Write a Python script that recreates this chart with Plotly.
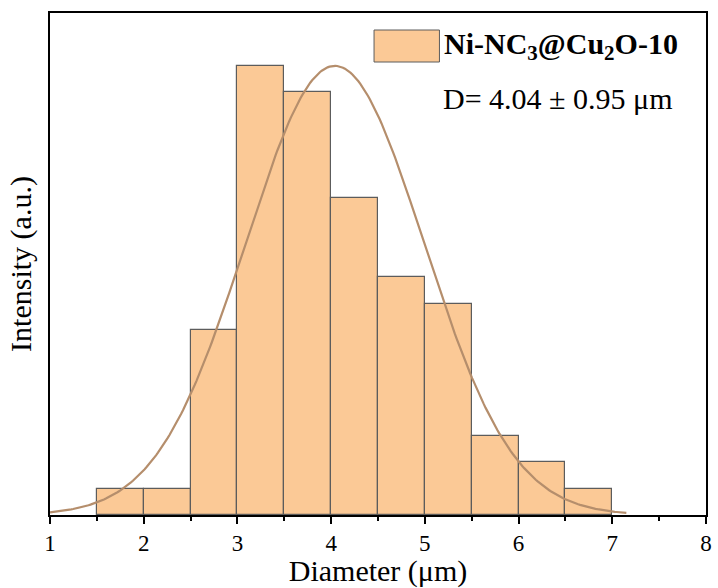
import numpy as np
import plotly.graph_objects as go

# Histogram data (bin left edges, counts)
bin_left = [1.5, 2.0, 2.5, 3.0, 3.5, 4.0, 4.5, 5.0, 5.5, 6.0, 6.5]
counts = [1, 1, 7, 17, 16, 12, 9, 8, 3, 2, 1]
bin_width = 0.5

# Gaussian fit parameters (from label)
mean_d = 4.04
std_d = 0.95
peak = 17.0
fit_start, fit_end = 1.0, 7.15

bar_x = [b + bin_width / 2 for b in bin_left]
xs = np.linspace(fit_start, fit_end, 300)
ys = peak * np.exp(-0.5 * ((xs - mean_d) / std_d) ** 2)

FONT = "Liberation Serif"
fig = go.Figure()
fig.add_trace(go.Bar(x=bar_x, y=counts, width=bin_width,
                     marker=dict(color="#FBC996", line=dict(color="#5c5c5c", width=1.2)),
                     showlegend=False))
fig.add_trace(go.Scatter(x=xs, y=ys, mode="lines",
                         line=dict(color="#B58E6C", width=2.2), showlegend=False))

fig.update_layout(
    width=718, height=588,
    margin=dict(l=50, r=6, t=13, b=73),
    plot_bgcolor="white", paper_bgcolor="white",
    font=dict(family=FONT, color="black"),
    bargap=0,
    xaxis=dict(range=[1, 8], dtick=1, tick0=1, ticks="outside", ticklen=7, tickwidth=1.5,
               tickcolor="black", showline=True, linecolor="black", linewidth=1.5, mirror=True,
               showgrid=False, zeroline=False, tickfont=dict(size=23, family=FONT),
               minor=dict(dtick=0.5, ticks="outside", ticklen=4, tickwidth=1.5, tickcolor="black"),
               title=dict(text="Diameter (μm)", font=dict(size=30, family=FONT), standoff=4)),
    yaxis=dict(range=[0, 19], showticklabels=False, ticks="", showline=True, linecolor="black",
               linewidth=1.5, mirror=True, showgrid=False, zeroline=False,
               title=dict(text="Intensity (a.u.)", font=dict(size=30, family=FONT), standoff=8)),
)

# custom legend
fig.add_shape(type="rect", xref="paper", yref="paper",
              x0=(377 - 50) / 662, x1=(443 - 50) / 662,
              y0=(515 - 62) / 502, y1=(515 - 30) / 502,
              fillcolor="#FBC996", line=dict(color="#5c5c5c", width=1))
fig.add_annotation(xref="paper", yref="paper", x=(446 - 50) / 662, y=(515 - 46) / 502,
                   xanchor="left", yanchor="middle", showarrow=False,
                   text="<b>Ni-NC<sub>3</sub>@Cu<sub>2</sub>O-10</b>",
                   font=dict(size=30, family=FONT))
fig.add_annotation(xref="paper", yref="paper", x=(445 - 50) / 662, y=(515 - 99) / 502,
                   xanchor="left", yanchor="middle", showarrow=False,
                   text="D= 4.04 ± 0.95 μm", font=dict(size=30, family=FONT))

fig.write_html("out.html")
